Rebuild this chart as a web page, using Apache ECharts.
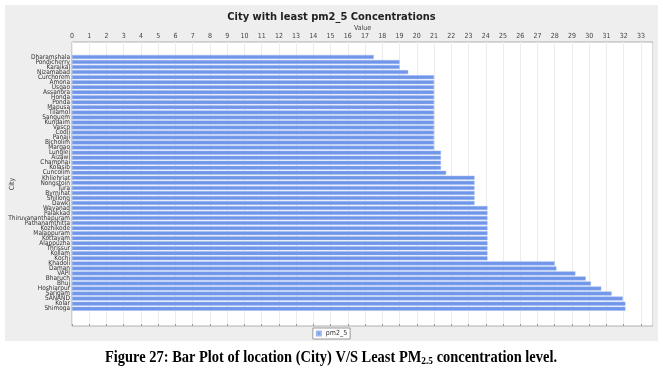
<!DOCTYPE html>
<html><head><meta charset="utf-8">
<script src="https://cdn.jsdelivr.net/npm/echarts@6/dist/echarts.min.js"></script>
<style>html,body{margin:0;padding:0;background:#fff}#c{width:663px;height:372px}</style>
</head><body><div id="c"></div>
<script>
const cities = ["Dharamshala","Pondicherry","Karaikal","Nizamabad","Curchorem","Amona","Usgao","Assanora","Honda","Ponda","Mapusa","Tilamol","Sanguem","Kundaim","Vasco","Codli","Panaji","Bicholim","Margao","Lunglei","Aizawl","Champhai","Kolasib","Cuncolim","Khliehriat","Nongstoin","Tura","Byrnihat","Shillong","Dawki","Wayanad","Palakkad","Thiruvananthapuram","Pathanamthitta","Kozhikode","Malappuram","Kottayam","Alappuzha","Thrissur","Kollam","Kochi","Khadoli","Daman","VAPI","Bharuch","Bhuj","Hoshiarpur","Sarigam","SANAND","Kolar","Shimoga"];
const pm25 = [17.5,19,19,19.5,21,21,21,21,21,21,21,21,21,21,21,21,21,21,21,21.4,21.4,21.4,21.4,21.7,23.35,23.35,23.35,23.35,23.35,23.35,24.1,24.1,24.1,24.1,24.1,24.1,24.1,24.1,24.1,24.1,24.1,28,28.1,29.2,29.8,30.1,30.7,31.3,31.95,32.1,32.1];
const seriesName = "pm2_5";
const titleText = "City with least pm2_5 Concentrations";
const xName = "Value";
const yName = "City";
const axisMax = 33.7;

const chart = echarts.init(document.getElementById('c'), null, {renderer:'canvas'});
const narrow = "'Liberation Sans Narrow','DejaVu Sans Condensed',sans-serif";
chart.setOption({
  animation:false,
  backgroundColor:'#ffffff',
  title:{text:titleText,left:'center',top:7,textStyle:{fontSize:11,fontWeight:'bold',color:'#222',fontFamily:"'DejaVu Sans Condensed','Liberation Sans',sans-serif"}},
  graphic:[
    {type:'rect',z:-10,shape:{x:5,y:5,width:653,height:336},style:{fill:'#eeeeee'}},
    {type:'text',x:362.5,y:28,style:{text:xName,align:'center',verticalAlign:'middle',fontSize:7,fill:'#444',fontFamily:narrow}},
    {type:'text',x:331,y:358,scaleX:0.85,style:{
      text:'{b|Figure 27: Bar Plot of location (City) V/S Least PM}{s|2.5}{b| concentration level.}',
      align:'center',verticalAlign:'middle',
      rich:{b:{fontFamily:"'Liberation Serif','Times New Roman',serif",fontWeight:'bold',fontSize:17,fill:'#000'},
            s:{fontFamily:"'Liberation Serif','Times New Roman',serif",fontWeight:'bold',fontSize:11,fill:'#000',padding:[6,0,0,0]}}
    }}
  ],
  legend:{data:[seriesName],bottom:33,left:'center',itemWidth:4,itemHeight:4,itemGap:4,
    borderColor:'#999',borderWidth:1,padding:[2,3],backgroundColor:'#fff',
    textStyle:{fontSize:7,color:'#333',fontFamily:narrow},icon:'rect'},
  grid:[
    {left:72,top:42,width:581,height:284,backgroundColor:'#fff',show:true,borderColor:'#b0b0b0',borderWidth:1},
    {left:72,top:54.5,width:581,height:256.7}
  ],
  xAxis:[
    {gridIndex:0,type:'value',position:'top',min:0,max:axisMax,interval:1,
     axisLine:{show:false},axisTick:{show:true,length:2,lineStyle:{color:'#999'}},
     axisLabel:{fontSize:7,color:'#444',margin:2,fontFamily:narrow,showMaxLabel:false},
     splitLine:{show:true,lineStyle:{color:'#ececec',width:1}}},
    {gridIndex:1,type:'value',min:0,max:axisMax,show:false,splitLine:{show:false}}
  ],
  yAxis:[
    {gridIndex:0,type:'value',min:0,max:1,axisLabel:{show:false},axisTick:{show:false},axisLine:{show:false},splitLine:{show:false},
     name:yName,nameLocation:'middle',nameGap:56,nameRotate:90,nameTextStyle:{fontSize:7,color:'#444',fontFamily:narrow}},
    {gridIndex:1,type:'category',inverse:true,data:cities,
     axisLine:{show:false},axisTick:{show:false},
     axisLabel:{fontSize:6.5,color:'#333',margin:2,fontFamily:narrow,interval:0}}
  ],
  series:[{name:seriesName,type:'bar',xAxisIndex:1,yAxisIndex:1,data:pm25,barWidth:4,
    itemStyle:{color:'#7096ea',borderColor:'#9db6f0',borderWidth:0.5}}]
});
</script></body></html>
